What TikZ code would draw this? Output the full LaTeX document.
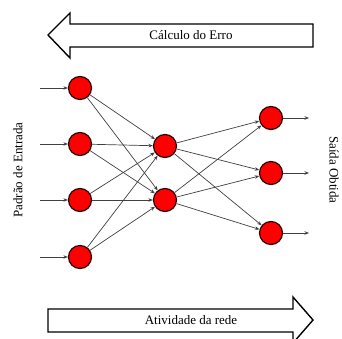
\documentclass[tikz,border=0pt]{standalone}
\usepackage{fontspec}
\setmainfont{Liberation Serif}
\usetikzlibrary{arrows.meta,calc}
\tikzset{
  neuron/.style={circle, fill=red, draw=black!85!red, line width=1.2pt, minimum size=23pt, inner sep=0pt},
  link/.style={draw=black!75, line width=0.7pt, -{Stealth[length=4.5pt,width=3.5pt]}},
  bigarrow/.style={draw=black, line width=1.4pt, fill=white, line join=miter},
  lbl/.style={font=\fontsize{13}{15}\selectfont}
}
\begin{document}
\begin{tikzpicture}[x=1pt,y=-1pt]
	\useasboundingbox (0,0) rectangle (342,339);
	
	% setas grandes
	\draw[bigarrow] (48,35) -- (70,13) -- (70,24) -- (313,24) -- (313,47) -- (70,47) -- (70,58) -- cycle;
	\node[lbl] (erro) at (191,35) {Cálculo do Erro};
	\draw[bigarrow] (313,320) -- (293,297) -- (293,309) -- (48,309) -- (48,332) -- (293,332) -- (293,343) -- cycle;
	\node[lbl] (atividade) at (191,320) {Atividade da rede};
	
	% camadas
	\node[neuron] (i1) at (80,88) {};
	\node[neuron] (i2) at (80,144) {};
	\node[neuron] (i3) at (80,200) {};
	\node[neuron] (i4) at (80,257) {};
	\node[neuron] (h1) at (165,146) {};
	\node[neuron] (h2) at (165,200) {};
	\node[neuron] (o1) at (271,118) {};
	\node[neuron] (o2) at (271,173) {};
	\node[neuron] (o3) at (271,233) {};
	
	% entradas e saidas
	\foreach \i in {1,...,4} {
		\coordinate (e\i) at ($(i\i)+(-40,0)$);
		\draw[link] (e\i) -- (i\i);
	}
	\foreach \o in {1,2,3} {
		\coordinate (s\o) at ($(o\o)+(38,0)$);
		\draw[link] (o\o) -- (s\o);
	}
	
	% ligacoes
	\foreach \i in {1,...,4}
		\foreach \h in {1,2}
			\draw[link] (i\i) -- (h\h);
	\foreach \h in {1,2}
		\foreach \o in {1,2,3}
			\draw[link] (h\h) -- (o\o);
	
	\node[lbl, rotate=90] (entrada) at (18,170) {Padrão de Entrada};
	\node[lbl, rotate=-90, inner sep=0pt] (saida) at (334,170) {Saída Obtida};
\end{tikzpicture}
\end{document}
